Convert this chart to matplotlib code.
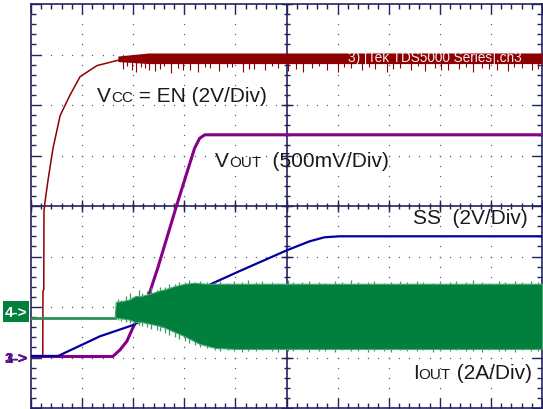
import numpy as np
import matplotlib
matplotlib.use("Agg")
import matplotlib.pyplot as plt
from matplotlib.patches import Rectangle

plt.rcParams['font.family'] = ['Liberation Sans', 'DejaVu Sans']

# ---- data, in screen divisions (x: 0..10 time div, y: 0..8 div from bottom) ----
# Ch1: VCC = EN
vcc_t = [0.0, 0.23, 0.234, 0.25, 0.254, 0.27, 0.33, 0.43, 0.57, 0.76, 0.96, 1.29, 1.68, 1.93, 2.3, 10.0]
vcc_v = [1.03, 1.03, 2.31, 2.35, 3.89, 4.05, 4.49, 5.14, 5.79, 6.19, 6.56, 6.78, 6.88, 6.92, 6.93, 6.93]
vcc_band_t = [1.70, 2.3, 10.0]
vcc_band_hi = [6.97, 7.03, 7.03]
vcc_band_lo = [6.86, 6.82, 6.82]
vcc_spike_t = [1.80, 1.87, 1.97, 2.06, 2.15, 2.23, 2.31, 2.42, 2.53, 2.61, 2.73, 2.88, 2.97, 3.12, 3.27,
               3.41, 3.50, 3.68, 3.83, 3.93, 4.14, 4.27, 4.36, 4.58, 4.71, 4.84, 5.03, 5.18, 5.33,
               5.50, 5.64, 5.80, 6.00, 6.13, 6.27, 6.47, 6.61, 6.74, 6.96, 7.09, 7.22, 7.43, 7.57,
               7.72, 7.90, 8.03, 8.17, 8.38, 8.51, 8.64, 8.83, 8.97, 9.12, 9.33, 9.46, 9.60, 9.80, 9.93]
vcc_spike_v = [6.72, 6.78, 6.70, 6.66, 6.76, 6.74, 6.70, 6.68, 6.72, 6.77, 6.64, 6.74, 6.69, 6.70, 6.66,
               6.76, 6.73, 6.68, 6.75, 6.75, 6.66, 6.71, 6.72, 6.70, 6.77, 6.74, 6.68, 6.72, 6.65,
               6.73, 6.78, 6.70, 6.66, 6.75, 6.74, 6.69, 6.76, 6.72, 6.66, 6.71, 6.73, 6.70, 6.77,
               6.67, 6.74, 6.70, 6.69, 6.72, 6.76, 6.66, 6.73, 6.71, 6.70, 6.68, 6.75, 6.74, 6.70, 6.72]

# Ch2: VOUT
vout_t = [0.0, 1.60, 1.74, 1.875, 1.99, 2.285, 2.48, 2.85, 3.20, 3.30, 3.40, 10.0]
vout_v = [1.02, 1.02, 1.15, 1.32, 1.58, 2.17, 2.77, 4.01, 5.14, 5.34, 5.41, 5.41]

# Ch3: SS
ss_t = [0.0, 0.53, 1.35, 1.99, 3.555, 4.08, 5.0, 5.45, 5.74, 6.04, 10.0]
ss_v = [1.03, 1.03, 1.42, 1.64, 2.47, 2.71, 3.12, 3.30, 3.38, 3.40, 3.40]

# Ch4: IOUT (baseline, then switching ripple envelope)
iout_base_t = [0.0, 1.64]
iout_base_v = [1.78, 1.78]
iout_env_t = [1.64, 1.66, 1.80, 1.93, 2.05, 2.13, 2.32, 2.50, 2.62, 2.80, 3.01, 3.20, 3.30, 3.45, 3.60, 4.00, 10.0]
iout_env_hi = [1.82, 2.10, 2.12, 2.15, 2.22, 2.21, 2.26, 2.32, 2.35, 2.41, 2.46, 2.48, 2.47, 2.46, 2.46, 2.46, 2.46]
iout_env_lo = [1.82, 1.79, 1.77, 1.75, 1.70, 1.71, 1.67, 1.63, 1.59, 1.51, 1.42, 1.32, 1.27, 1.23, 1.19, 1.17, 1.17]
iout_spk_t = [1.70, 1.76, 1.86, 1.93, 2.02, 2.12, 2.17, 2.27, 2.35, 2.46, 2.52, 2.63, 2.70, 2.81, 2.89,
              3.02, 3.09, 3.21, 3.31, 3.44, 3.60, 3.69, 3.86, 3.97, 4.13, 4.24, 4.41, 4.53, 4.71,
              4.83, 5.02, 5.13, 5.31, 5.44, 5.63, 5.76, 5.95, 6.08, 6.27, 6.40, 6.59, 6.72, 6.91,
              7.04, 7.23, 7.36, 7.55, 7.68, 7.87, 8.00, 8.19, 8.32, 8.51, 8.64, 8.83, 8.96, 9.15,
              9.28, 9.47, 9.60, 9.79, 9.92]
iout_spk_hi = [2.16, 2.14, 2.22, 2.28, 2.20, 2.33, 2.27, 2.32, 2.38, 2.34, 2.40, 2.40, 2.45, 2.45, 2.50,
               2.50, 2.53, 2.50, 2.52, 2.50, 2.49, 2.52, 2.48, 2.51, 2.50, 2.53, 2.49, 2.51, 2.50,
               2.48, 2.53, 2.50, 2.49, 2.52, 2.50, 2.48, 2.51, 2.49, 2.53, 2.50, 2.49, 2.52, 2.48,
               2.50, 2.52, 2.49, 2.51, 2.50, 2.48, 2.52, 2.50, 2.51, 2.49, 2.53, 2.50, 2.48, 2.51,
               2.50, 2.52, 2.49, 2.51, 2.50]
iout_spk_lo = [1.74, 1.72, 1.71, 1.68, 1.66, 1.64, 1.63, 1.60, 1.57, 1.54, 1.52, 1.49, 1.45, 1.41, 1.36,
               1.33, 1.29, 1.25, 1.21, 1.18, 1.14, 1.12, 1.14, 1.12, 1.11, 1.13, 1.12, 1.14, 1.12,
               1.11, 1.13, 1.12, 1.14, 1.11, 1.13, 1.12, 1.11, 1.14, 1.12, 1.13, 1.11, 1.13, 1.12,
               1.11, 1.14, 1.12, 1.13, 1.14, 1.11, 1.12, 1.13, 1.14, 1.12, 1.13, 1.11, 1.14, 1.12,
               1.13, 1.11, 1.14, 1.12, 1.13]

# ---- figure ----
W, H = 543, 410
fig = plt.figure(figsize=(W / 100, H / 100), dpi=100)
fig.patch.set_facecolor('white')
ax = fig.add_axes([31 / W, 1 / H, 511 / W, 404 / H])
ax.set_xlim(0, 10)
ax.set_ylim(0, 8)

navy = '#22225e'
for s in ax.spines.values():
    s.set_color(navy)
    s.set_linewidth(1.2)
ax.set_xticks(np.arange(0, 11, 1))
ax.set_yticks(np.arange(0, 9, 1))
ax.set_xticks(np.arange(0, 10.01, 0.2), minor=True)
ax.set_yticks(np.arange(0, 8.01, 0.2), minor=True)
ax.tick_params(which='both', direction='in', top=True, right=True,
               labelbottom=False, labelleft=False, color=navy, width=1.0)
ax.tick_params(which='major', length=7)
ax.tick_params(which='minor', length=3.5)

# dotted graticule
minor_x = np.arange(0, 10.01, 0.2)
minor_y = np.arange(0, 8.01, 0.2)
for gx in range(1, 10):
    if gx == 5:
        continue
    ax.plot(np.full_like(minor_y, gx), minor_y, ls='none', marker='s', ms=0.9,
            mew=0, color='#5a5a80', zorder=1)
for gy in range(1, 8):
    if gy == 4:
        continue
    ax.plot(minor_x, np.full_like(minor_x, gy), ls='none', marker='s', ms=0.9,
            mew=0, color='#5a5a80', zorder=1)

# centre axes with ticks
ax.axvline(5, color=navy, lw=1.2, zorder=1)
ax.axhline(4, color=navy, lw=1.2, zorder=1)
ax.plot(minor_x, np.full_like(minor_x, 4), ls='none', marker='|', ms=5, mew=1.0, color=navy, zorder=1)
ax.plot(np.full_like(minor_y, 5), minor_y, ls='none', marker='_', ms=5, mew=1.0, color=navy, zorder=1)
ax.plot(np.arange(0, 11), np.full(11, 4), ls='none', marker='|', ms=9, mew=1.0, color=navy, zorder=1)
ax.plot(np.full(9, 5), np.arange(0, 9), ls='none', marker='_', ms=9, mew=1.0, color=navy, zorder=1)

# traces
red = '#8e0000'
purple = '#86008a'
blue = '#0000a0'
green = '#007f3d'

ax.fill_between(vcc_band_t, vcc_band_lo, vcc_band_hi, color=red, lw=0, zorder=3)
ax.vlines(vcc_spike_t, vcc_spike_v, 6.9, color=red, lw=0.8, zorder=3)
ax.plot(vcc_t, vcc_v, color=red, lw=1.1, zorder=3)

ax.plot(vout_t, vout_v, color=purple, lw=2.2, zorder=4)

ax.plot(ss_t, ss_v, color=blue, lw=1.6, zorder=4)

ax.plot(iout_base_t, iout_base_v, color='#2f8f5a', lw=2.0, zorder=5)
ax.vlines(iout_spk_t, 1.8, iout_spk_hi, color='#3a9a66', lw=0.9, zorder=5)
ax.vlines(iout_spk_t, iout_spk_lo, 1.8, color='#3a9a66', lw=0.9, zorder=5)
ax.fill_between(iout_env_t, iout_env_lo, iout_env_hi, color=green, lw=0.8,
                edgecolor='#4aa577', zorder=5.5)

# watermark
ax.text(6.2, 6.95, '3) [Tek TDS5000 Series].ch3', fontsize=9.8, color='#f3ecf3',
        va='center', ha='left', zorder=7)

# labels (big letter + small caps + rest)
def label(x, y, parts):
    t = ax.text(x, y, parts[0][0], fontsize=parts[0][1], va='baseline', ha='left',
                color='#1a1a1a', zorder=8)
    for s, fs in parts[1:]:
        t = ax.annotate(s, xy=(1, y), xycoords=(t, 'data'), fontsize=fs, va='baseline',
                        ha='left', color='#1a1a1a', zorder=8)

label(1.29, 6.087, [('V', 15), ('CC', 11), (' = EN (2V/Div)', 15)])
label(3.60, 4.80, [('V', 15), ('OUT', 11), ('  (500mV/Div)', 15)])
label(7.475, 3.656, [('SS  (2V/Div)', 15)])
label(7.475, 0.593, [('I', 15), ('OUT', 11), (' (2A/Div)', 15)])

# ground markers at left
fig.add_artist(Rectangle((3 / W, (H - 323) / H), 26 / W, 21 / H, transform=fig.transFigure,
                         facecolor=green, edgecolor='none'))
fig.text(16 / W, (H - 313) / H, '4->', color='white', fontsize=11, fontweight='bold',
         ha='center', va='center')
fig.text(16 / W, (H - 359) / H, '1->', color=red, fontsize=11, fontweight='bold',
         ha='center', va='center')
fig.text(16 / W, (H - 359) / H, '3->', color=blue, fontsize=11, fontweight='bold',
         ha='center', va='center')
fig.text(16 / W, (H - 359) / H, '2->', color='#6a1aa0', fontsize=11, fontweight='bold',
         ha='center', va='center', alpha=0.85)

fig.savefig('out.png', dpi=100)
